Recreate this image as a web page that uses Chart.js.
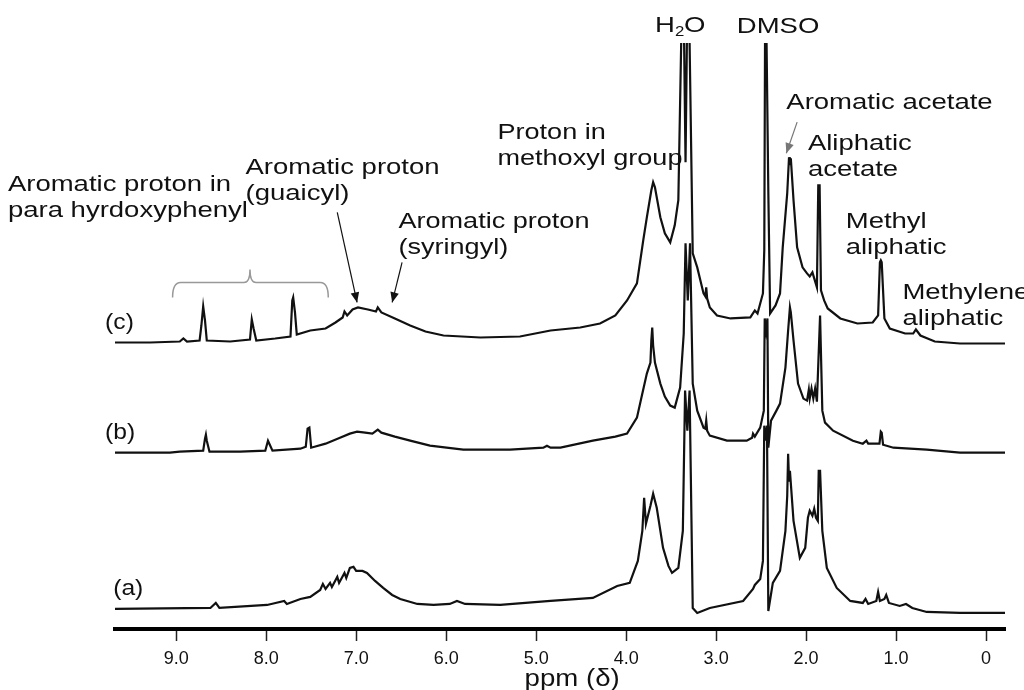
<!DOCTYPE html>
<html>
<head>
<meta charset="utf-8">
<title>1H NMR spectra</title>
<script src="https://cdn.jsdelivr.net/npm/chart.js@4.4.1/dist/chart.umd.min.js"></script>
<style>
  html, body { margin: 0; background: #fff; }
  #wrap { width: 1024px; height: 690px; }
</style>
</head>
<body>
<div id="wrap"><canvas id="nmrChart" width="1024" height="690"></canvas></div>
<script>
// chemical shift (ppm) and intensity above each trace's own baseline
const ppmA = [9.68, 8.62, 8.56, 8.52, 7.99, 7.80, 7.77, 7.62, 7.51, 7.40, 7.37, 7.34, 7.29, 7.27, 7.21, 7.19, 7.13, 7.11, 7.07, 7.03,
  7.00, 6.93, 6.88, 6.79, 6.70, 6.60, 6.51, 6.32, 6.14, 5.96, 5.88, 5.79, 5.40, 4.84, 4.37, 4.10, 3.96, 3.87, 3.82, 3.80,
  3.78, 3.73, 3.70, 3.66, 3.59, 3.53, 3.49, 3.42, 3.37, 3.345, 3.32, 3.295, 3.26, 3.21, 3.07, 2.70, 2.59, 2.57, 2.51, 2.48,
  2.465, 2.45, 2.435, 2.42, 2.37, 2.29, 2.23, 2.21, 2.20, 2.19, 2.18, 2.14, 2.07, 2.01, 1.98, 1.96, 1.93, 1.91, 1.89, 1.87,
  1.86, 1.845, 1.82, 1.77, 1.66, 1.51, 1.37, 1.34, 1.31, 1.22, 1.20, 1.18, 1.13, 1.11, 1.08, 0.96, 0.89, 0.82, 0.66, 0.29, -0.21];
const intA = [0, 1, 6, 1, 4, 8, 5, 10, 12, 19, 25, 20, 26, 22, 32, 26, 36, 31, 41, 42,
  38, 38, 36, 28, 21, 14, 10, 5, 4, 5, 8, 5, 4, 8, 11, 23, 26, 48, 78, 111,
  85, 103, 115, 101, 61, 43, 36, 41, 78, 218, 178, 218, 1, -4, 1, 8, 20, 24, 30, 48,
  183, 168, 183, -2, 26, 38, 78, 113, 155, 128, 138, 88, 51, 61, 91, 98, 93, 100, 91, 88,
  138, 138, 78, 41, 21, 8, 6, 10, 5, 8, 17, 8, 10, 14, 6, 3, 5, 1, -3, -4, -4];

const ppmB = [9.68, 9.07, 8.96, 8.70, 8.68, 8.67, 8.66, 8.63, 8.29, 8.01, 7.98, 7.96, 7.93, 7.62, 7.56, 7.54, 7.52, 7.50, 7.34, 7.18,
  7.07, 6.99, 6.90, 6.82, 6.76, 6.72, 6.57, 6.40, 6.18, 5.81, 5.29, 4.92, 4.88, 4.84, 4.73, 4.37, 4.12, 3.99, 3.88, 3.82,
  3.77, 3.73, 3.72, 3.71, 3.70, 3.68, 3.62, 3.57, 3.51, 3.46, 3.40, 3.36, 3.34, 3.315, 3.29, 3.26, 3.21, 3.14, 3.12, 3.11,
  3.10, 3.07, 2.88, 2.66, 2.60, 2.59, 2.57, 2.51, 2.47, 2.46, 2.445, 2.43, 2.42, 2.39, 2.33, 2.29, 2.23, 2.20, 2.18, 2.17,
  2.14, 2.09, 2.03, 1.99, 1.97, 1.96, 1.94, 1.92, 1.90, 1.88, 1.845, 1.835, 1.82, 1.79, 1.70, 1.48, 1.37, 1.33, 1.31, 1.185,
  1.17, 1.16, 1.145, 1.03, 0.66, 0.29, -0.21];
const intB = [0, 0, 1, 2, 14, 18, 12, 1, 1, 2, 12, 8, 2, 4, 6, 24, 25, 5, 9, 15,
  19, 21, 20, 19, 23, 20, 16, 12, 7, 3, 3, 5, 7, 5, 5, 12, 16, 19, 35, 59,
  79, 90, 112, 125, 107, 90, 69, 56, 47, 45, 65, 119, 209, 152, 209, 69, 42, 25, 24, 32,
  22, 17, 12, 12, 15, 19, 16, 25, 42, 134, 122, 134, 5, 32, 42, 49, 85, 122, 145, 140,
  112, 69, 54, 52, 63, 54, 64, 54, 64, 51, 137, 137, 42, 30, 22, 12, 9, 12, 9, 9,
  21, 20, 8, 5, 3, 0, 0];

const ppmC = [9.68, 9.29, 8.96, 8.92, 8.88, 8.74, 8.72, 8.70, 8.68, 8.66, 8.40, 8.18, 8.16, 8.14, 8.11, 7.90, 7.73, 7.71, 7.70, 7.68,
  7.66, 7.51, 7.34, 7.23, 7.15, 7.13, 7.10, 7.04, 6.98, 6.87, 6.78, 6.76, 6.72, 6.57, 6.40, 6.23, 6.03, 5.62, 5.18, 4.84,
  4.51, 4.29, 4.12, 3.99, 3.88, 3.81, 3.77, 3.72, 3.70, 3.68, 3.62, 3.57, 3.51, 3.46, 3.42, 3.38, 3.36, 3.34, 3.32, 3.30,
  3.26, 3.21, 3.14, 3.12, 3.11, 3.10, 3.07, 2.99, 2.84, 2.62, 2.57, 2.54, 2.48, 2.465, 2.455, 2.445, 2.435, 2.42, 2.40, 2.34,
  2.29, 2.26, 2.21, 2.19, 2.18, 2.17, 2.14, 2.10, 2.04, 1.99, 1.96, 1.93, 1.91, 1.88, 1.865, 1.85, 1.835, 1.80, 1.76, 1.62,
  1.43, 1.26, 1.20, 1.18, 1.17, 1.16, 1.13, 1.07, 0.90, 0.81, 0.78, 0.73, 0.57, 0.29, -0.21];
const intC = [0, 0, 1, 4, 1, 2, 17, 36, 22, 2, 1, 3, 23, 14, 2, 4, 6, 42, 45, 30,
  8, 12, 14, 20, 25, 31, 27, 33, 35, 33, 31, 35, 30, 24, 17, 11, 7, 5, 6, 12,
  15, 19, 27, 42, 59, 102, 125, 152, 160, 155, 125, 109, 100, 117, 142, 340, 330, 180, 340, 330,
  89, 75, 49, 46, 55, 44, 35, 27, 24, 25, 32, 29, 49, 92, 340, 340, 340, 150, 29, 37,
  49, 95, 149, 185, 177, 184, 142, 95, 75, 69, 66, 70, 64, 55, 157, 157, 52, 42, 34, 24,
  19, 20, 27, 80, 82, 80, 24, 14, 9, 9, 13, 7, 1, -1, -1];

// vertical stacking of the three spectra
const traceNames = ["(a)", "(b)", "(c)"];
const traceOffsets = [20, 176, 286];
const traceNamePpm = [9.70, 9.79, 9.79];
const tickValues = [9, 8, 7, 6, 5, 4, 3, 2, 1, 0];
const axisTitle = "ppm (δ)";

// peak assignments: text lines, anchor shift and height (chart units)
const noteLines = [
  ["Aromatic proton in", "para hyrdoxyphenyl"],
  ["Aromatic proton", "(guaicyl)"],
  ["Aromatic proton", "(syringyl)"],
  ["Proton in", "methoxyl group"],
  ["Aromatic acetate"],
  ["Aliphatic", "acetate"],
  ["Methyl", "aliphatic"],
  ["Methylene", "aliphatic"],
  ["DMSO"]
];
const notePpm = [10.87, 8.23, 6.53, 5.43, 2.22, 1.98, 1.56, 0.93, 2.77];
const noteHeight = [443, 460, 406, 495, 525, 484, 406, 335, 601];
const noteStretch = [1.25, 1.25, 1.23, 1.23, 1.25, 1.25, 1.25, 1.25, 1.25];

// arrows: [fromPpm, fromH, toPpm, toH]
const arrows = [
  [7.21, 416, 6.99, 326],
  [6.49, 366, 6.60, 326],
  [2.10, 506, 2.22, 475]
];
const arrowColors = ["#111", "#111", "#777"];

// curly bracket over the p-hydroxyphenyl peaks
const bracketPpm = [9.04, 8.18, 7.31];
const bracketH = [331, 346, 359];

const FONT = '"Liberation Sans", Arial, sans-serif';

const datasets = [[ppmA, intA], [ppmB, intB], [ppmC, intC]].map(([p, v], i) => ({
  label: traceNames[i],
  data: p.map((x, k) => ({ x: x, y: v[k] + traceOffsets[i] })),
  borderColor: "#111",
  borderWidth: 2.2,
  pointRadius: 0,
  tension: 0,
  fill: false
}));

function stretchText(ctx, text, x, y, size, sx){
  ctx.save();
  ctx.translate(x, y);
  ctx.scale(sx, 1);
  ctx.font = `${size}px ${FONT}`;
  ctx.fillText(text, 0, 0);
  ctx.restore();
}

const notesPlugin = {
  id: "notes",
  afterDraw(chart){
    const { ctx, scales: { x, y } } = chart;
    ctx.save();
    ctx.fillStyle = "#111";
    ctx.textBaseline = "middle";
    ctx.textAlign = "left";

    noteLines.forEach((lines, i) => {
      const px = x.getPixelForValue(notePpm[i]);
      const py = y.getPixelForValue(noteHeight[i]);
      lines.forEach((t, j) => stretchText(ctx, t, px, py + j * 26, 22, noteStretch[i]));
    });

    // H2O with subscript
    const hx = x.getPixelForValue(3.68), hy = y.getPixelForValue(602);
    stretchText(ctx, "H", hx, hy, 22, 1.25);
    stretchText(ctx, "2", hx + 20, hy + 6, 14, 1.2);
    stretchText(ctx, "O", hx + 29, hy, 22, 1.25);

    traceNames.forEach((t, i) => {
      const py = y.getPixelForValue(traceOffsets[i]) - 20;
      stretchText(ctx, t, x.getPixelForValue(traceNamePpm[i]), py, 22, 1.12);
    });

    // axis title under the tick labels
    ctx.textAlign = "center";
    stretchText(ctx, axisTitle, x.getPixelForValue(4.6), x.top + 51, 23, 1.2);
    ctx.textAlign = "left";

    // bracket
    const bx = bracketPpm.map(v => x.getPixelForValue(v));
    const by = bracketH.map(v => y.getPixelForValue(v));
    ctx.strokeStyle = "#999";
    ctx.lineWidth = 1.5;
    ctx.beginPath();
    ctx.moveTo(bx[0], by[0]);
    ctx.quadraticCurveTo(bx[0], by[1], bx[0] + 8, by[1]);
    ctx.lineTo(bx[1] - 6, by[1]);
    ctx.quadraticCurveTo(bx[1], by[1], bx[1], by[2]);
    ctx.quadraticCurveTo(bx[1], by[1], bx[1] + 6, by[1]);
    ctx.lineTo(bx[2] - 8, by[1]);
    ctx.quadraticCurveTo(bx[2], by[1], bx[2], by[0]);
    ctx.stroke();

    // arrows
    arrows.forEach((a, i) => {
      const x0 = x.getPixelForValue(a[0]), y0 = y.getPixelForValue(a[1]);
      const x1 = x.getPixelForValue(a[2]), y1 = y.getPixelForValue(a[3]);
      const ang = Math.atan2(y1 - y0, x1 - x0);
      ctx.strokeStyle = arrowColors[i];
      ctx.fillStyle = arrowColors[i];
      ctx.lineWidth = 1.2;
      ctx.beginPath();
      ctx.moveTo(x0, y0);
      ctx.lineTo(x1, y1);
      ctx.stroke();
      ctx.beginPath();
      ctx.moveTo(x1, y1);
      ctx.lineTo(x1 - 11 * Math.cos(ang - 0.4), y1 - 11 * Math.sin(ang - 0.4));
      ctx.lineTo(x1 - 11 * Math.cos(ang + 0.4), y1 - 11 * Math.sin(ang + 0.4));
      ctx.closePath();
      ctx.fill();
    });
    ctx.restore();
  }
};

new Chart(document.getElementById("nmrChart"), {
  type: "line",
  data: { datasets },
  options: {
    responsive: false,
    animation: false,
    devicePixelRatio: 1,
    layout: { padding: { left: 115, right: 19, top: 43, bottom: 13 } },
    plugins: { legend: { display: false }, tooltip: { enabled: false } },
    scales: {
      x: {
        type: "linear",
        reverse: true,
        min: -0.21,
        max: 9.68,
        afterBuildTicks: s => { s.ticks = tickValues.map(v => ({ value: v })); },
        border: { display: true, color: "#000", width: 4 },
        grid: { drawOnChartArea: false, drawTicks: true, tickLength: 12, tickWidth: 1.5, tickColor: "#222" },
        ticks: {
          autoSkip: false,
          maxRotation: 0,
          padding: 9,
          color: "#111",
          font: { family: FONT, size: 18, lineHeight: 1 },
          callback: v => v === 0 ? "0" : v.toFixed(1)
        },
        title: { display: false }
      },
      y: { display: false, min: 0, max: 585 }
    }
  },
  plugins: [notesPlugin]
});
</script>
</body>
</html>
